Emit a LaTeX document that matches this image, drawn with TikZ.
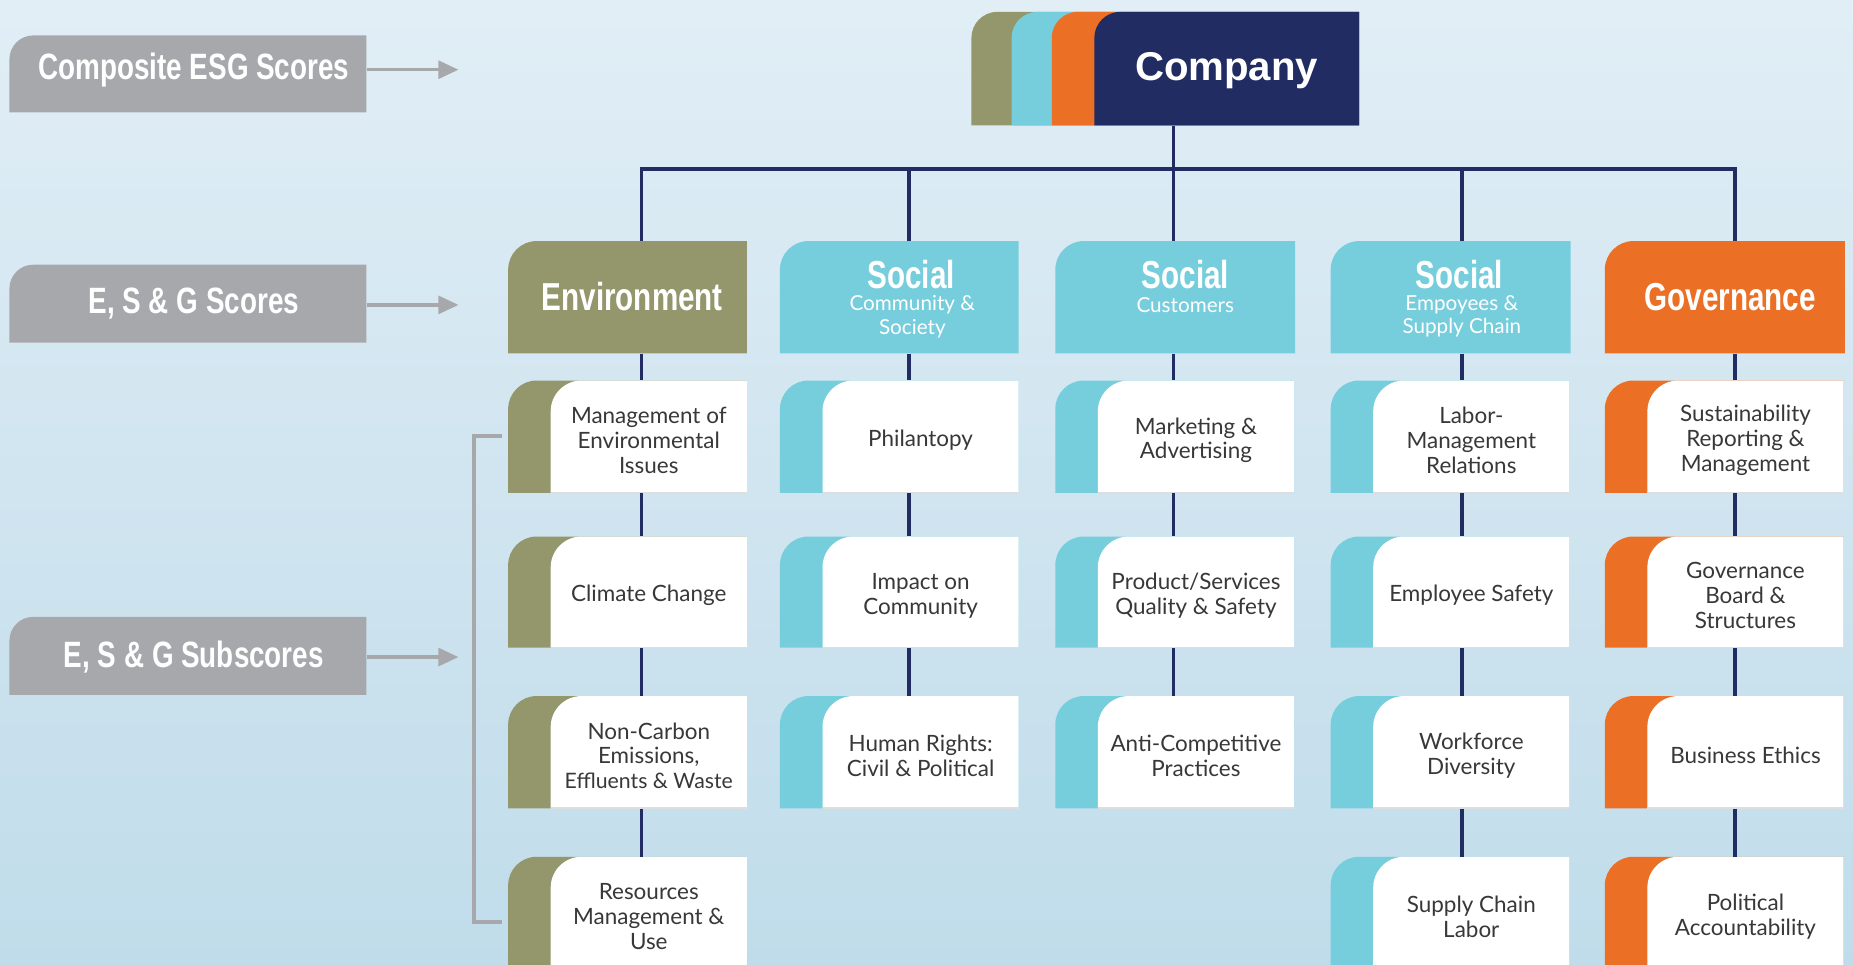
\documentclass[tikz,border=0pt]{standalone}
\usepackage{fontspec}
\setmainfont{Lato}
\newfontfamily\condfont[FakeStretch=0.76]{Liberation Sans}
\newfontfamily\compfont{Liberation Sans}
\newfontfamily\subfont{Lato}
\usetikzlibrary{arrows.meta,calc}
\definecolor{esgolive}{HTML}{94976B}
\definecolor{esgcyan}{HTML}{76CEDD}
\definecolor{esgorange}{HTML}{EB7026}
\definecolor{esgnavy}{HTML}{212C63}
\definecolor{esggray}{HTML}{A7A8AC}
\definecolor{esgtext}{HTML}{383838}
\definecolor{bgtop}{RGB}{225,238,246}
\definecolor{bgbot}{RGB}{192,220,234}
% filled box with rounded top-left corner: colour, x1, y1, x2, y2, radius
\newcommand\tlbox[6]{\fill[#1] (#2,#5) -- (#2,#3+#6) .. controls (#2,#3+0.45*#6) and (#2+0.45*#6,#3) .. (#2+#6,#3) -- (#4,#3) -- (#4,#5) -- cycle;}
% subscore box: name, colour, x1, y1, height, text
\newcommand\subbox[6]{%
  \tlbox{#2}{#3}{#4}{#3+202}{#4+#5}{24}
  \tlbox{white}{#3+36}{#4}{#3+202}{#4+#5}{26}
  \draw[black!13, line width=1.5pt] (#3+36,#4+#5) -- (#3+202,#4+#5);
  \node[inner sep=0pt, minimum width=166pt, minimum height=#5 pt] (#1) at (#3+119,#4+#5/2) {};
  \node[subtext] (#1t) at (#3+119,#4+#5/2+3) {#6};}
\tikzset{
  conn/.style={draw=esgnavy, line width=3pt},
  grayline/.style={draw=esggray, line width=3pt},
  grayarrow/.style={grayline, -{Triangle[length=17pt,width=15pt]}},
  subtext/.style={text=esgtext, font=\subfont\fontsize{19}{21}\selectfont, align=center, inner sep=0pt},
  boxnode/.style={inner sep=0pt, minimum width=202pt, minimum height=95pt},
  labnode/.style={inner sep=0pt, minimum width=302pt, minimum height=65pt},
  hdtitle/.style={text=white, inner sep=0pt, font=\condfont\bfseries\fontsize{33}{38}\selectfont},
  hdsub/.style={text=white, inner sep=0pt, align=center, font=\subfont\fontsize{17.5}{19.5}\selectfont},
  labtext/.style={text=white, inner sep=0pt, font=\condfont\bfseries\fontsize{31}{36}\selectfont},
}
\begin{document}
\begin{tikzpicture}[x=1pt,y=-1pt]
\useasboundingbox (0,0) rectangle (1568,816);
\clip (0,0) rectangle (1568,816);
\shade[top color=bgtop, bottom color=bgbot] (0,0) rectangle (1568,816);

% ---- left labels ----
\tlbox{esggray}{8}{30}{310}{95}{20}
\node[labnode] (lab1) at (159,62.5) {};
\node[labtext] (lab1t) at (164,59) {Composite ESG Scores};
\tlbox{esggray}{8}{224}{310}{290}{20}
\node[labnode] (lab2) at (159,257) {};
\node[labtext] (lab2t) at (164,257) {E, S \& G Scores};
\tlbox{esggray}{8}{522}{310}{588}{20}
\node[labnode] (lab3) at (159,555) {};
\node[labtext] (lab3t) at (164,556) {E, S \& G Subscores};
\coordinate (a1) at (388,59);
\coordinate (a2) at (388,258);
\coordinate (a3) at (388,556);
\draw[grayarrow] (lab1.east |- a1) -- (a1);
\draw[grayarrow] (lab2.east |- a2) -- (a2);
\draw[grayarrow] (lab3.east |- a3) -- (a3);
\coordinate (bt) at (425,369);
\coordinate (bb) at (425,780);
\draw[grayline] (bt) -- ++(-24,0) |- (bb);

% ---- column x positions ----
\coordinate (cE) at (543,0);
\coordinate (cS1) at (769,0);
\coordinate (cS2) at (993,0);
\coordinate (cS3) at (1237,0);
\coordinate (cG) at (1468,0);
\coordinate (bus) at (993,143);

% ---- company ----
\tlbox{esgolive}{822}{10}{1150}{106}{22}
\tlbox{esgcyan}{856}{10}{1150}{106}{22}
\tlbox{esgorange}{890}{10}{1150}{106}{22}
\tlbox{esgnavy}{926}{10}{1150}{106}{22}
\node[inner sep=0pt, minimum width=224pt, minimum height=96pt] (company) at (1038,58) {};
\node[text=white, inner sep=0pt, font=\compfont\bfseries\fontsize{34}{40}\selectfont] (companyt) at (1038,60) {Company};

% ---- headers ----
\tlbox{esgolive}{430}{204}{632}{299}{24}
\node[boxnode] (hE) at (531,251.5) {};
\node[hdtitle] (hEt) at (535,251) {Environment};

\tlbox{esgcyan}{660}{204}{862}{299}{24}
\node[boxnode] (hS1) at (761,251.5) {};
\node[hdtitle] (hS1t) at (771,232) {Social};
\node[hdsub] (hS1s) at (772,268) {Community \&\\Society};

\tlbox{esgcyan}{893}{204}{1096}{299}{24}
\node[boxnode] (hS2) at (994.5,251.5) {};
\node[hdtitle] (hS2t) at (1003,232) {Social};
\node[hdsub] (hS2s) at (1003,258) {Customers};

\tlbox{esgcyan}{1126}{204}{1329}{299}{24}
\node[boxnode] (hS3) at (1227.5,251.5) {};
\node[hdtitle] (hS3t) at (1235,232) {Social};
\node[hdsub] (hS3s) at (1237,268) {Empoyees \&\\Supply Chain};

\tlbox{esgorange}{1358}{204}{1561}{299}{24}
\node[boxnode] (hG) at (1459.5,251.5) {};
\node[hdtitle] (hGt) at (1464,251) {Governance};

% ---- subscores ----
\subbox{e1}{esgolive}{430}{322}{95}{Management of\\Environmental\\Issues}
\subbox{e2}{esgolive}{430}{454}{94}{Climate Change}
\subbox{e3}{esgolive}{430}{589}{95}{Non-Carbon\\Emissions,\\{\fontsize{18}{21}\selectfont Effluents \& Waste}}
\subbox{e4}{esgolive}{430}{725}{95}{Resources\\Management \&\\Use}

\subbox{s11}{esgcyan}{660}{322}{95}{Philantopy}
\subbox{s12}{esgcyan}{660}{454}{94}{Impact on\\Community}
\subbox{s13}{esgcyan}{660}{589}{95}{Human Rights:\\Civil \& Political}

\subbox{s21}{esgcyan}{893}{322}{95}{Marketing \&\\Advertising}
\subbox{s22}{esgcyan}{893}{454}{94}{Product/Services\\Quality \& Safety}
\subbox{s23}{esgcyan}{893}{589}{95}{Anti-Competitive\\Practices}

\subbox{s31}{esgcyan}{1126}{322}{95}{Labor-\\Management\\Relations}
\subbox{s32}{esgcyan}{1126}{454}{94}{Employee Safety}
\subbox{s33}{esgcyan}{1126}{589}{95}{Workforce\\Diversity}
\subbox{s34}{esgcyan}{1126}{725}{95}{Supply Chain\\Labor}

\subbox{g1}{esgorange}{1358}{322}{95}{Sustainability\\Reporting \&\\Management}
\subbox{g2}{esgorange}{1358}{454}{94}{Governance\\Board \&\\Structures}
\subbox{g3}{esgorange}{1358}{589}{95}{Business Ethics}
\subbox{g4}{esgorange}{1358}{725}{95}{Political\\Accountability}

% ---- connectors ----
\draw[conn] (company.south -| cS2) -- (bus);
\draw[conn] (hE.north -| cE) -- (cE |- bus) -- (cG |- bus) -- (hG.north -| cG);
\draw[conn] (cS1 |- bus) -- (hS1.north -| cS1);
\draw[conn] (cS2 |- bus) -- (hS2.north -| cS2);
\draw[conn] (cS3 |- bus) -- (hS3.north -| cS3);
\foreach \a/\b/\c in {hE/e1/cE, e1/e2/cE, e2/e3/cE, e3/e4/cE,
  hS1/s11/cS1, s11/s12/cS1, s12/s13/cS1,
  hS2/s21/cS2, s21/s22/cS2, s22/s23/cS2,
  hS3/s31/cS3, s31/s32/cS3, s32/s33/cS3, s33/s34/cS3,
  hG/g1/cG, g1/g2/cG, g2/g3/cG, g3/g4/cG}
  \draw[conn] (\a.south -| \c) -- (\b.north -| \c);
\end{tikzpicture}
\end{document}
